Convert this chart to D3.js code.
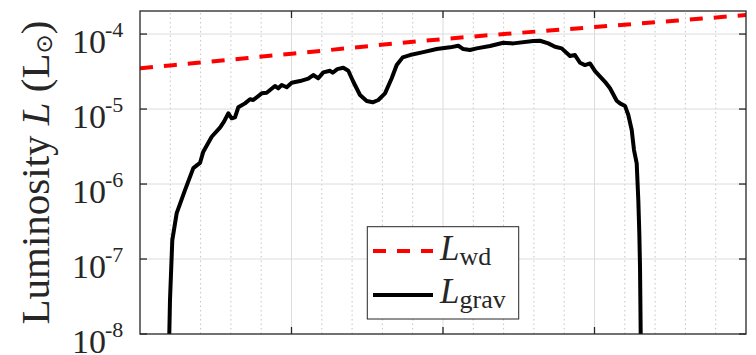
<!DOCTYPE html>
<html>
<head>
<meta charset="utf-8">
<script src="https://cdn.jsdelivr.net/npm/d3@7"></script>
<style>
  html, body { margin: 0; padding: 0; background: #fff; }
  svg { display: block; }
  text { font-family: "Liberation Serif", "Times New Roman", serif; fill: #262626; }
</style>
</head>
<body>
<svg id="chart" width="756" height="355"></svg>
<script>
// Time axis (arbitrary units) and luminosities in solar units
const xDomain = [0, 20];
const xMajorTicks = [5, 10, 15];
const xMinorStep = 1;
const yDomain = [1e-8, 2.03e-4];
const yTicks = [1e-8, 1e-7, 1e-6, 1e-5, 1e-4];

// White-dwarf luminosity
const wdX = [0, 5, 10, 15, 20];
const wdL = [3.49e-5, 5.46e-5, 8.57e-5, 1.24e-4, 1.79e-4];

// Gravitational luminosity
const gravX = [0.967, 0.990, 1.066, 1.211, 1.485, 1.759, 1.980, 2.089, 2.366, 2.640,
  2.772, 2.914, 3.026, 3.135, 3.244, 3.465, 3.630, 3.739, 4.017, 4.181,
  4.455, 4.564, 4.677, 4.842, 5.007, 5.281, 5.554, 5.719, 5.884, 6.050,
  6.271, 6.360, 6.512, 6.710, 6.875, 7.040, 7.261, 7.482, 7.680, 7.865,
  8.086, 8.307, 8.472, 8.670, 8.911, 9.350, 9.792, 10.231, 10.505, 10.670,
  10.891, 11.112, 11.551, 11.990, 12.320, 12.980, 13.201, 13.475, 13.696, 13.917,
  14.191, 14.356, 14.521, 14.686, 14.851, 15.017, 15.347, 15.512, 15.733, 15.842,
  16.007, 16.116, 16.228, 16.304, 16.393, 16.446, 16.479, 16.502, 16.525];
const gravL = [1.0e-8, 2.84e-8, 1.79e-7, 4.1e-7, 8.3e-7, 1.63e-6, 1.91e-6, 2.70e-6, 4.27e-6, 5.64e-6,
  6.78e-6, 8.77e-6, 7.52e-6, 7.75e-6, 1.055e-5, 1.19e-5, 1.35e-5, 1.32e-5, 1.62e-5, 1.65e-5,
  2.03e-5, 1.89e-5, 2.09e-5, 1.95e-5, 2.24e-5, 2.36e-5, 2.54e-5, 2.84e-5, 2.57e-5, 3.08e-5,
  3.24e-5, 3.05e-5, 3.41e-5, 3.55e-5, 3.24e-5, 2.31e-5, 1.54e-5, 1.28e-5, 1.23e-5, 1.32e-5,
  1.62e-5, 2.57e-5, 3.86e-5, 4.89e-5, 5.25e-5, 5.75e-5, 6.31e-5, 6.65e-5, 6.98e-5, 6.31e-5,
  6.12e-5, 6.44e-5, 6.92e-5, 7.66e-5, 7.51e-5, 8.07e-5, 8.14e-5, 7.51e-5, 6.77e-5, 6.44e-5,
  5.09e-5, 5.25e-5, 4.14e-5, 3.86e-5, 4.06e-5, 3.21e-5, 2.31e-5, 1.89e-5, 1.29e-5, 1.19e-5,
  1.10e-5, 8.32e-6, 5.25e-6, 2.84e-6, 1.89e-6, 6.12e-7, 2.22e-7, 7.82e-8, 1.0e-8];

const W = 756, H = 355;
const margin = { left: 140, right: 10, top: 11, bottom: 21 };
const x0 = margin.left, x1 = W - margin.right;
const y0 = H - margin.bottom, y1 = margin.top;

const svg = d3.select("#chart");
const x = d3.scaleLinear().domain(xDomain).range([x0, x1]);
const y = d3.scaleLog().domain(yDomain).range([y0, y1]);

const axisColor = "#262626";

// Grid
const minorX = d3.range(xDomain[0] + xMinorStep, xDomain[1], xMinorStep)
  .filter(v => !xMajorTicks.includes(v));
const grid = svg.append("g");
grid.selectAll("line.minor").data(minorX).join("line")
  .attr("x1", d => x(d)).attr("x2", d => x(d))
  .attr("y1", y0).attr("y2", y1)
  .attr("stroke", "#c4c4c4").attr("stroke-width", 1)
  .attr("stroke-dasharray", "1.5 3");
grid.selectAll("line.vmaj").data(xMajorTicks).join("line")
  .attr("x1", d => x(d)).attr("x2", d => x(d))
  .attr("y1", y0).attr("y2", y1)
  .attr("stroke", "#dcdcdc").attr("stroke-width", 1);
grid.selectAll("line.hmaj").data(yTicks.slice(1)).join("line")
  .attr("x1", x0).attr("x2", x1)
  .attr("y1", d => y(d)).attr("y2", d => y(d))
  .attr("stroke", "#dcdcdc").attr("stroke-width", 1);

// Curves
svg.append("clipPath").attr("id", "plotClip")
  .append("rect").attr("x", x0).attr("y", y1).attr("width", x1 - x0).attr("height", y0 - y1);

const wdData = wdX.map((v, i) => [v, wdL[i]]);
const gravData = gravX.map((v, i) => [v, gravL[i]]);

const plot = svg.append("g").attr("clip-path", "url(#plotClip)");
plot.append("path").datum(wdData)
  .attr("d", d3.line().x(d => x(d[0])).y(d => y(d[1])).curve(d3.curveMonotoneX))
  .attr("fill", "none").attr("stroke", "#ff0000").attr("stroke-width", 4)
  .attr("stroke-dasharray", "13 11");
plot.append("path").datum(gravData)
  .attr("d", d3.line().x(d => x(d[0])).y(d => y(d[1])))
  .attr("fill", "none").attr("stroke", "#000").attr("stroke-width", 4)
  .attr("stroke-linejoin", "round");

// Axes (box with inward ticks)
const tickLen = 7;
const axes = svg.append("g").attr("stroke", axisColor).attr("stroke-width", 1.3);
axes.append("rect").attr("x", x0).attr("y", y1).attr("width", x1 - x0).attr("height", y0 - y1)
  .attr("fill", "none");
axes.selectAll("line.xb").data(xMajorTicks).join("line")
  .attr("x1", d => x(d)).attr("x2", d => x(d)).attr("y1", y0).attr("y2", y0 - tickLen);
axes.selectAll("line.xt").data(xMajorTicks).join("line")
  .attr("x1", d => x(d)).attr("x2", d => x(d)).attr("y1", y1).attr("y2", y1 + tickLen);
axes.selectAll("line.yl").data(yTicks).join("line")
  .attr("x1", x0).attr("x2", x0 + tickLen).attr("y1", d => y(d)).attr("y2", d => y(d));
axes.selectAll("line.yr").data(yTicks).join("line")
  .attr("x1", x1).attr("x2", x1 - tickLen).attr("y1", d => y(d)).attr("y2", d => y(d));

// Y tick labels: 10^n
const yLab = svg.append("g");
yTicks.forEach(t => {
  const ty = y(t);
  const e = Math.round(Math.log10(t));
  yLab.append("text").attr("x", 106).attr("y", ty + 18.8)
    .attr("text-anchor", "end").attr("font-size", 34).text("10");
  yLab.append("text").attr("x", 105).attr("y", ty + 2.5)
    .attr("font-size", 22).text("-" + Math.abs(e));
});

// Y axis title
const yt = svg.append("text")
  .attr("transform", `translate(48.5, ${(y0 + y1) / 2}) rotate(-90)`)
  .attr("text-anchor", "middle").attr("font-size", 41);
yt.append("tspan").text("Luminosity ");
yt.append("tspan").attr("font-style", "italic").text("L");
yt.append("tspan").text(" (L");
yt.append("tspan").attr("font-family", "DejaVu Sans").attr("font-size", 23).attr("dy", 3).text("\u2299");
yt.append("tspan").attr("dy", -3).text(")");

// Legend
const lg = svg.append("g");
lg.append("rect").attr("x", 367.3).attr("y", 226.7).attr("width", 151.4).attr("height", 92.3)
  .attr("fill", "#fff").attr("stroke", axisColor).attr("stroke-width", 1);
const entries = [
  { sub: "wd", color: "#ff0000", dash: "13 11", cy: 251, base: 260 },
  { sub: "grav", color: "#000", dash: null, cy: 295, base: 303.3 }
];
entries.forEach(en => {
  lg.append("line").attr("x1", 373).attr("x2", 433).attr("y1", en.cy).attr("y2", en.cy)
    .attr("stroke", en.color).attr("stroke-width", 4)
    .attr("stroke-dasharray", en.dash);
  const t = lg.append("text").attr("x", 440).attr("y", en.base).attr("font-size", 35);
  t.append("tspan").attr("font-style", "italic").text("L");
  t.append("tspan").attr("font-size", 26).attr("dy", 5).text(en.sub);
});
</script>
</body>
</html>
